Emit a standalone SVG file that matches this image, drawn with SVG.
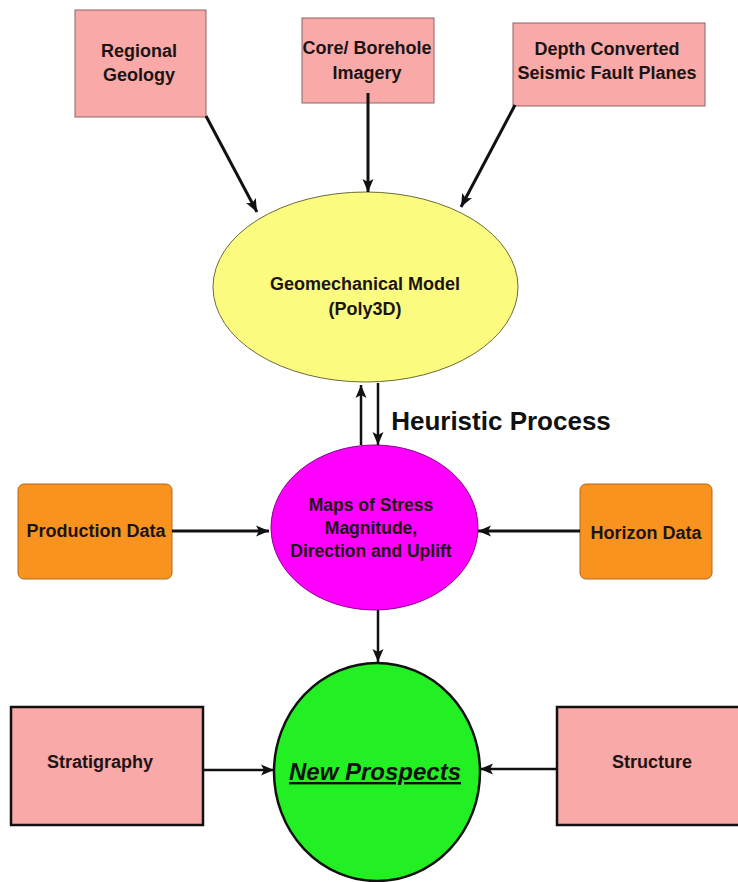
<svg xmlns="http://www.w3.org/2000/svg" width="738" height="882" viewBox="0 0 738 882">
<defs>
<marker id="ah" markerUnits="userSpaceOnUse" markerWidth="14" markerHeight="12" refX="13" refY="6" orient="auto">
<path d="M0,0.5 L13,6 L0,11.5 L3,6 z" fill="#111"/>
</marker>
<style>
text{font-family:"Liberation Sans",Arial,sans-serif;font-weight:bold;fill:#1c1414;text-anchor:middle}
.pink{fill:#f8a9a8;stroke:#8c6464;stroke-width:1}
.pinkb{fill:#f8a9a8;stroke:#111;stroke-width:2.5}
.orange{fill:#f8931f;stroke:#b5671c;stroke-width:1}
.t18{font-size:18px}
.tm{font-size:17.5px}
.conn line{stroke:#111;stroke-width:3;marker-end:url(#ah)}
</style>
</defs>
<rect width="738" height="882" fill="#ffffff"/>

<g id="regional-geology">
<rect class="pink" x="75" y="10" width="131" height="107"/>
<text class="t18" x="139" y="57">Regional</text>
<text class="t18" x="139" y="81">Geology</text>
</g>

<g id="core-borehole">
<rect class="pink" x="302" y="18" width="132" height="85"/>
<text class="t18" x="367" y="54">Core/ Borehole</text>
<text class="t18" x="367" y="79">Imagery</text>
</g>

<g id="depth-converted">
<rect class="pink" x="513" y="23" width="192" height="83"/>
<text class="t18" x="607" y="55">Depth Converted</text>
<text class="t18" x="607" y="79">Seismic Fault Planes</text>
</g>

<g id="geomechanical-model">
<ellipse cx="365.5" cy="287" rx="152.5" ry="95" fill="#fbfb80" stroke="#6b6b3a" stroke-width="1"/>
<text class="t18" x="365" y="290">Geomechanical Model</text>
<text class="t18" x="365" y="315">(Poly3D)</text>
</g>

<g id="heuristic-label">
<text x="501" y="430" style="font-size:26px;fill:#111">Heuristic Process</text>
</g>

<g id="production-data">
<rect class="orange" x="18" y="484" width="154" height="95" rx="6"/>
<text class="t18" x="96" y="537">Production Data</text>
</g>

<g id="horizon-data">
<rect class="orange" x="580" y="484" width="132" height="95" rx="6"/>
<text class="t18" x="646" y="539">Horizon Data</text>
</g>

<g id="stress-maps">
<ellipse cx="374.5" cy="527.5" rx="103.5" ry="82.5" fill="#ff00ff" stroke="#8a008a" stroke-width="1"/>
<text class="tm" x="371" y="511">Maps of Stress</text>
<text class="tm" x="371" y="534">Magnitude,</text>
<text class="tm" x="371" y="557">Direction and Uplift</text>
</g>

<g id="stratigraphy">
<rect class="pinkb" x="11" y="707" width="192" height="118"/>
<text class="t18" x="100" y="768">Stratigraphy</text>
</g>

<g id="structure">
<rect class="pinkb" x="557" y="707" width="185" height="118"/>
<text class="t18" x="652" y="768">Structure</text>
</g>

<g id="new-prospects">
<ellipse cx="377" cy="772" rx="103" ry="109" fill="#22f022" stroke="#111" stroke-width="2.5"/>
<text x="375" y="780" style="font-size:24px;font-style:italic;text-decoration:underline;fill:#111">New Prospects</text>
</g>

<g id="connectors" class="conn">
<line x1="206" y1="116" x2="257" y2="212"/>
<line x1="368" y1="93" x2="368" y2="192"/>
<line x1="515" y1="105" x2="461" y2="207"/>
<line x1="361" y1="445" x2="361" y2="385" style="stroke-width:2.5"/>
<line x1="378" y1="383" x2="378" y2="445" style="stroke-width:2.5"/>
<line x1="172" y1="531" x2="269" y2="531"/>
<line x1="580" y1="531" x2="478" y2="531"/>
<line x1="378" y1="610" x2="378" y2="662" style="stroke-width:2.5"/>
<line x1="203" y1="770" x2="274" y2="770" style="stroke-width:2.5"/>
<line x1="557" y1="769" x2="480" y2="769" style="stroke-width:2.5"/>
</g>
</svg>
